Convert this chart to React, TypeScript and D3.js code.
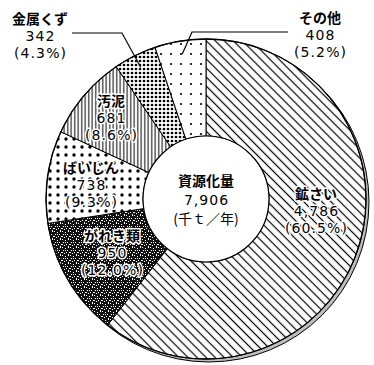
import React, { useEffect, useRef } from 'react';
import * as d3 from 'd3';

// data
const categories = ['鉱さい', 'がれき類', 'ばいじん', '汚泥', '金属くず', 'その他'];
const values = [4786, 950, 738, 681, 342, 408];
const percents = [60.5, 12.0, 9.3, 8.6, 4.3, 5.2];
const totalLabel = ['資源化量', '7,906', '(千ｔ／年)'];

// label layout (first line centre)
const labelPos: [number, number][] = [
  [316, 194],
  [112, 236],
  [91, 168],
  [111, 101],
  [40, 19],
  [320, 18],
];
const lineGap = 17;
const patternIds = ['p-hatch', 'p-noise', 'p-bigdot', 'p-vline', 'p-dense', 'p-sparse'];

const W = 374;
const H = 365;
const cx = 206;
const cy = 199;
const R = 160;
const r = 63;

const App = () => {
  const svgRef = useRef<SVGSVGElement>(null);

  useEffect(() => {
    const svg = d3.select(svgRef.current);
    svg.selectAll('*').remove();

    const defs = svg.append('defs');

    // diagonal hatch
    defs.append('pattern')
      .attr('id', 'p-hatch')
      .attr('patternUnits', 'userSpaceOnUse')
      .attr('width', 6.4).attr('height', 6.4)
      .attr('patternTransform', 'rotate(45)')
      .call(p => {
        p.append('rect').attr('width', 6.4).attr('height', 6.4).attr('fill', '#fff');
        p.append('line').attr('x1', 0).attr('x2', 6.4).attr('y1', 3.2).attr('y2', 3.2)
          .attr('stroke', '#000').attr('stroke-width', 1.2);
      });

    // vertical lines
    defs.append('pattern')
      .attr('id', 'p-vline')
      .attr('patternUnits', 'userSpaceOnUse')
      .attr('width', 3.5).attr('height', 4)
      .call(p => {
        p.append('rect').attr('width', 3.5).attr('height', 4).attr('fill', '#fff');
        p.append('rect').attr('x', 1.2).attr('y', 0).attr('width', 1).attr('height', 4).attr('fill', '#000');
      });

    // dot patterns
    const dots = (id: string, size: number, rad: number) => {
      defs.append('pattern')
        .attr('id', id)
        .attr('patternUnits', 'userSpaceOnUse')
        .attr('width', size).attr('height', size)
        .call(p => {
          p.append('rect').attr('width', size).attr('height', size).attr('fill', '#fff');
          p.append('circle').attr('cx', size / 2).attr('cy', size / 2).attr('r', rad).attr('fill', '#000');
        });
    };
    dots('p-dense', 4, 1.35);
    dots('p-bigdot', 8, 1.7);
    dots('p-sparse', 10, 1.1);

    // dark speckle
    const speck = [[0, 0], [3, 1], [6, 0], [1, 3], [5, 3], [7, 5], [2, 6], [4, 5], [0, 5], [6, 7], [3, 3]];
    defs.append('pattern')
      .attr('id', 'p-noise')
      .attr('patternUnits', 'userSpaceOnUse')
      .attr('width', 8).attr('height', 8)
      .call(p => {
        p.append('rect').attr('width', 8).attr('height', 8).attr('fill', '#111');
        speck.forEach(([x, y]) => p.append('rect').attr('x', x).attr('y', y)
          .attr('width', 1).attr('height', 1).attr('fill', '#fff'));
      });

    // grey shadow edge
    svg.append('circle')
      .attr('cx', cx + 3).attr('cy', cy + 3).attr('r', R)
      .attr('fill', '#bdbdbd').attr('stroke', '#000').attr('stroke-width', 1);

    const pie = d3.pie<number>().sort(null).value(d => d);
    const arcs = pie(values);
    const arc = d3.arc<d3.PieArcDatum<number>>().innerRadius(r).outerRadius(R);

    const g = svg.append('g').attr('transform', `translate(${cx},${cy})`);

    g.selectAll('.slice')
      .data(arcs)
      .enter().append('path')
      .attr('class', 'slice')
      .attr('d', arc)
      .attr('fill', (d, i) => `url(#${patternIds[i]})`)
      .attr('stroke', '#000')
      .attr('stroke-width', 1);

    g.append('circle').attr('r', R).attr('fill', 'none').attr('stroke', '#000').attr('stroke-width', 1.3);
    g.append('circle').attr('r', r).attr('fill', '#fff').attr('stroke', '#000').attr('stroke-width', 1.2);

    // leader lines for the two small slices
    const leaderArc = d3.arc<d3.PieArcDatum<number>>().innerRadius(147).outerRadius(147);
    const leaders: [number, [number, number][]][] = [
      [4, [[72, 33], [122, 33]]],
      [5, [[288, 32], [192, 32]]],
    ];
    leaders.forEach(([i, pts]) => {
      const [px, py] = leaderArc.centroid(arcs[i]);
      const line = d3.line();
      svg.append('path')
        .attr('d', line([...pts, [px + cx, py + cy]]))
        .attr('fill', 'none')
        .attr('stroke', '#000')
        .attr('stroke-width', 1.2);
    });

    const fmt = d3.format(',');
    const jpFont = '"Noto Sans CJK JP", sans-serif';
    const numFont = '"DejaVu Sans", sans-serif';

    categories.forEach((name, i) => {
      const [x, y] = labelPos[i];
      const halo = i < 4;
      const lines = [
        { t: name, f: jpFont, w: 700, ls: 0 },
        { t: fmt(values[i]), f: numFont, w: 400, ls: 1.1 },
        { t: `(${percents[i].toFixed(1)}%)`, f: numFont, w: 400, ls: 1.1 },
      ];
      lines.forEach((l, j) => {
        svg.append('text')
          .attr('x', x + l.ls / 2)
          .attr('y', y + j * lineGap + 5)
          .attr('text-anchor', 'middle')
          .style('font-family', l.f)
          .style('font-weight', l.w)
          .style('font-size', '14px')
          .style('letter-spacing', `${l.ls}px`)
          .style('paint-order', 'stroke')
          .attr('stroke', halo ? '#fff' : 'none')
          .attr('stroke-width', halo ? 3 : 0)
          .attr('stroke-linejoin', 'round')
          .attr('fill', '#000')
          .text(l.t);
      });
    });

    // centre total
    totalLabel.forEach((t, j) => {
      svg.append('text')
        .attr('x', cx + (j === 1 ? 0.5 : 0))
        .attr('y', 181 + j * 19 + 5)
        .attr('text-anchor', 'middle')
        .style('font-family', j === 1 ? numFont : jpFont)
        .style('font-weight', j === 0 ? 700 : 400)
        .style('font-size', '14px')
        .style('letter-spacing', j === 1 ? '1px' : '0px')
        .attr('fill', '#000')
        .text(t);
    });
  }, []);

  return (
    <svg
      ref={svgRef}
      width={W}
      height={H}
      style={{ position: 'absolute', left: 0, top: 0, background: '#fff' }}
    />
  );
};

export default App;
